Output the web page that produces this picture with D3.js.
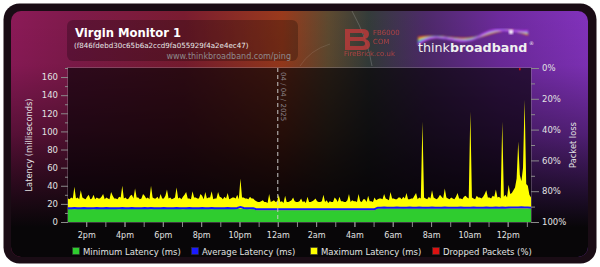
<!DOCTYPE html>
<html><head><meta charset="utf-8">
<script src="https://cdn.jsdelivr.net/npm/d3@7"></script>
<style>html,body{margin:0;padding:0;background:#fff;}svg{display:block;font-family:"DejaVu Sans",sans-serif;}</style>
</head><body><svg id="c" width="600" height="267"></svg>
<script>
// ---------------- DATA ----------------
const title = "Virgin Monitor 1";
const monitorId = "(f846fdebd30c65b6a2ccd9fa055929f4a2e4ec47)";
const siteUrl = "www.thinkbroadband.com/ping";
const dateLabel = "04 / 04 / 2025";
const startTime = "2025-04-03T13:03:00Z";
const endTime = "2025-04-04T13:13:00Z";
const dateLineTime = "2025-04-04T00:00:00Z";
const stepMinutesMinAvg = 10;
const stepMinutesMax = 5;

const minLatency = [
14.3,14.3,14.2,14.3,14.3,14.4,14.3,14.3,14.2,14.3,
14.3,14.3,14.3,14.4,14.3,14.3,14.2,14.3,14.3,14.3,
14.3,14.3,14.4,14.3,14.3,14.3,14.2,14.3,14.3,14.3,
14.3,14.4,14.3,14.3,14.3,14.3,14.2,14.3,14.3,14.3,
14.4,14.3,14.3,14.3,14.3,14.2,14.3,14.3,14.3,14.3,
14.4,14.3,14.3,14.3,14.4,14.3,14.3,14.2,14.3,
13.0,12.9,13.0,13.0,13.1,13.0,13.0,12.9,13.0,13.0,
13.0,13.0,13.1,13.0,12.9,13.0,13.0,13.0,13.0,13.1,
13.0,12.9,13.0,13.0,13.0,13.0,13.1,13.0,13.0,12.9,
13.0,13.0,13.0,13.1,13.0,13.0,13.0,12.9,
14.7,14.7,14.8,14.7,14.7,14.6,14.7,14.7,14.8,14.7,
14.7,14.7,14.7,14.6,14.7,14.8,14.7,14.7,14.7,14.7,
14.8,14.7,14.7,14.6,14.7,14.7,14.7,14.8,14.7,14.7,
14.7,14.7,14.6,14.7,14.7,14.8,14.7,14.7,14.7,14.7,
14.7,14.8,14.7,14.7,14.6,14.7,14.7,14.7,14.7];

const avgLatency = [
15.3,15.3,15.4,15.3,15.3,15.4,15.3,15.3,15.3,15.4,
15.3,15.3,15.4,15.3,15.3,15.3,15.3,15.5,15.3,15.3,
15.4,15.3,15.3,15.3,15.4,15.3,15.5,15.3,15.3,15.3,
15.4,15.3,15.3,15.3,15.4,15.3,15.3,15.3,15.4,15.3,
15.3,15.3,15.4,15.3,15.3,15.4,15.3,15.3,15.3,15.3,
15.4,15.3,15.3,15.4,16.6,15.4,15.3,15.3,15.3,
14.0,14.0,14.1,14.0,14.0,14.0,14.1,14.0,14.0,14.0,
14.1,14.0,14.0,14.0,14.0,14.1,14.0,14.0,14.1,14.0,
14.0,14.0,14.0,14.1,14.0,14.0,14.0,14.1,14.0,14.0,
14.1,14.0,14.0,14.0,14.1,14.0,14.0,14.1,
15.8,15.8,15.9,15.8,15.8,15.8,15.9,15.8,15.8,15.8,
15.9,15.8,15.8,15.9,15.8,15.8,15.8,15.9,15.8,15.8,
15.8,15.9,15.8,15.8,15.8,15.8,15.9,15.8,15.8,15.8,
15.9,15.8,15.8,15.8,15.9,15.8,15.8,15.9,15.8,15.9,
15.8,15.9,15.9,16.1,15.9,16.2,15.9,16.0,15.8];

const maxLatency = [
26,25,27,26,39,26,27,25,35,27,26,25,28,30,25,26,30,25,27,26,
26,28,31,25,27,26,25,33,29,26,26,25,28,27,40,26,27,25,26,29,
30,26,37,27,27,25,26,31,29,26,27,25,40,27,26,26,28,25,31,26,
26,29,36,26,27,25,26,27,38,26,27,25,28,30,33,26,26,25,34,27,
27,26,26,31,29,25,33,26,27,27,34,25,26,26,33,28,27,25,28,26,
32,25,26,27,27,26,30,25,48,27,27,26,26,25,28,26,26,24,
23,22,22,23,24,22,22,21,31,22,23,24,22,23,30,22,23,21,29,22,
22,23,24,27,23,22,22,23,26,22,23,21,28,22,22,23,24,26,23,22,
22,23,30,22,24,21,23,22,22,27,25,22,28,23,23,22,22,24,31,22,
24,23,23,22,31,23,22,25,25,22,29,23,23,22,27,24,
25,26,26,25,31,26,25,24,33,26,26,25,25,27,27,25,28,26,32,25,
25,26,26,29,32,25,27,26,111,27,26,25,28,26,35,27,26,25,27,30,
28,26,37,27,26,25,27,26,25,28,32,26,26,25,28,29,27,26,122,27,
26,25,29,27,27,26,28,31,35,27,27,26,29,28,36,27,28,26,111,28,
30,27,41,31,32,35,38,48,89,52,45,60,135,42,40,30,27];

const droppedTimes = ["2025-04-04T12:38:00Z"];
const droppedValues = [1.5];

const yTicks = [0,20,40,60,80,100,120,140,160];
const yMinorTicks = [10,30,50,70,90,110,130,150,170];
const lossTicks = [0,20,40,60,80,100];
const lossTickLabels = ["0%","20%","40%","60%","80%","100%"];
const lossMinorTicks = [10,30,50,70,90];
const xTickTimes = ["2025-04-03T14:00:00Z","2025-04-03T16:00:00Z","2025-04-03T18:00:00Z","2025-04-03T20:00:00Z","2025-04-03T22:00:00Z","2025-04-04T00:00:00Z","2025-04-04T02:00:00Z","2025-04-04T04:00:00Z","2025-04-04T06:00:00Z","2025-04-04T08:00:00Z","2025-04-04T10:00:00Z","2025-04-04T12:00:00Z"];
const xTickLabels = ["2pm","4pm","6pm","8pm","10pm","12am","2am","4am","6am","8am","10am","12pm"];

const legendItems = [
  {label:"Minimum Latency (ms)", color:"#2fcc2f"},
  {label:"Average Latency (ms)", color:"#1a1aff"},
  {label:"Maximum Latency (ms)", color:"#ffff00"},
  {label:"Dropped Packets (%)", color:"#dd1111"}];

// ---------------- DRAW ----------------
const svg = d3.select("#c");
const defs = svg.append("defs");

const hg = defs.append("linearGradient").attr("id","hg").attr("x1","0").attr("x2","1").attr("y1","0").attr("y2","0");
[[0,"#8c1a58"],[0.1,"#801a4c"],[0.3,"#7a1c30"],[0.47,"#9a3a1c"],[0.55,"#5e4a30"],[0.62,"#343c3a"],[0.72,"#4e2a6a"],[0.85,"#6e2a9e"],[1,"#8232bc"]]
  .forEach(s=>hg.append("stop").attr("offset",s[0]).attr("stop-color",s[1]));
const vg = defs.append("linearGradient").attr("id","vg").attr("x1","0").attr("x2","0").attr("y1","0").attr("y2","1");
[[0,"rgba(0,0,0,0)"],[0.22,"rgba(0,0,0,0.06)"],[0.5,"rgba(0,0,0,0.38)"],[0.75,"rgba(6,4,7,0.8)"],[0.88,"rgba(8,6,8,1)"],[1,"rgba(8,6,8,1)"]]
  .forEach(s=>vg.append("stop").attr("offset",s[0]).attr("stop-color",s[1]));
defs.append("filter").attr("id","blur").append("feGaussianBlur").attr("stdDeviation",0.9);

// frame
svg.append("rect").attr("x",3.5).attr("y",3.5).attr("width",593).attr("height",260).attr("rx",16).attr("fill","#1a0c15");
svg.append("rect").attr("x",11).attr("y",11).attr("width",577).attr("height",246).attr("rx",10).attr("fill","url(#hg)");
svg.append("rect").attr("x",11).attr("y",11).attr("width",577).attr("height",246).attr("rx",10).attr("fill","url(#vg)");
// faint streaks
svg.append("path").attr("d","M352,11 Q368,40 372,66").attr("fill","none").attr("stroke","rgba(255,255,255,0.18)").attr("stroke-width",1);
svg.append("path").attr("d","M300,66 Q310,50 330,44").attr("fill","none").attr("stroke","rgba(255,255,255,0.10)").attr("stroke-width",1);

// title box
svg.append("rect").attr("x",67).attr("y",20).attr("width",231).attr("height",41).attr("rx",6).attr("fill","rgba(0,0,0,0.25)");
svg.append("text").attr("x",75).attr("y",37).attr("font-size",11.6).attr("font-weight","bold").attr("fill","#fff").text(title);
svg.append("text").attr("x",74).attr("y",47.5).attr("font-size",7.1).attr("fill","#e8e8e8").text(monitorId);
svg.append("text").attr("x",291).attr("y",58.5).attr("font-size",8).attr("fill","#8e8a8c").attr("text-anchor","end").text(siteUrl);

// FireBrick logo
const fb = svg.append("g").attr("opacity",0.85);
fb.append("path").attr("d","M345,29 L362,29 Q369,29 369,34 Q369,38 365,39 Q370,40 370,45 Q370,50 363,50 L345,50 Z M350,33 L350,37 L361,37 Q364,37 364,35 Q364,33 361,33 Z M350,41 L350,46 L362,46 Q365,46 365,43.5 Q365,41 362,41 Z")
  .attr("fill","#b83a3a").attr("fill-rule","evenodd");
fb.append("text").attr("x",373).attr("y",35).attr("font-size",7).attr("fill","#c04444").text("FB6000");
fb.append("text").attr("x",373).attr("y",43.5).attr("font-size",7).attr("fill","#c04444").text("COM");
fb.append("text").attr("x",344).attr("y",56).attr("font-size",7).attr("fill","#c04444").text("FireBrick.co.uk");

// thinkbroadband swirl
const sw = svg.append("g").attr("filter","url(#blur)");
["#ff3030","#ff9a20","#ffee40","#40e060","#30c0ff","#6060ff","#e040ff"].forEach((c,i)=>{
  const o=(i-3)*1.3;
  sw.append("path").attr("d",`M418,${41+o} C440,${30-o} 458,${46+o} 478,${37} S505,${29+o} 528,${33-o*0.5}`)
    .attr("fill","none").attr("stroke",c).attr("stroke-width",1.4).attr("opacity",0.85);
});
svg.append("circle").attr("cx",511).attr("cy",32).attr("r",2.2).attr("fill","#fff").attr("filter","url(#blur)");
const tb = svg.append("text").attr("x",418).attr("y",52).attr("font-size",12.7).attr("fill","#f0f0f0");
tb.append("tspan").attr("font-weight","normal").text("think");
tb.append("tspan").attr("font-weight","bold").text("broadband");
svg.append("text").attr("x",529).attr("y",45).attr("font-size",5).attr("fill","#eee").text("®");

// plot
const L=68, R=531, T=68, B=222;
const x = d3.scaleUtc().domain([new Date(startTime), new Date(endTime)]).range([L,R]);
const y = d3.scaleLinear().domain([0,170]).range([B,T]);
const yLoss = d3.scaleLinear().domain([0,100]).range([T,B]);

svg.append("rect").attr("x",L).attr("y",T).attr("width",R-L).attr("height",B-T).attr("fill","rgba(4,2,5,0.64)");

const t0 = new Date(startTime).getTime();
const tMA = i => new Date(t0 + i*stepMinutesMinAvg*60000);
const tMX = i => new Date(t0 + i*stepMinutesMax*60000);

const g = svg.append("g");
g.append("path").datum(maxLatency).attr("fill","#ffff00")
  .attr("d", d3.area().x((d,i)=>x(tMX(i))).y0(y(0)).y1(d=>y(d)));
g.append("path").datum(minLatency).attr("fill","#2fcc2f")
  .attr("d", d3.area().x((d,i)=>x(tMA(i))).y0(y(0)).y1(d=>y(d)));
g.append("path").datum(avgLatency).attr("fill","none").attr("stroke","#1414ff").attr("stroke-width",2)
  .attr("d", d3.line().x((d,i)=>x(tMA(i))).y(d=>y(d)));
g.selectAll("rect.drop").data(droppedValues).enter().append("rect")
  .attr("x",(d,i)=>x(new Date(droppedTimes[i]))-0.7).attr("width",1.4)
  .attr("y",yLoss(0)).attr("height",d=>yLoss(d)-yLoss(0)).attr("fill","#dd1111");

// plot border
svg.append("rect").attr("x",L-0.5).attr("y",T-0.5).attr("width",R-L+1).attr("height",B-T+1)
  .attr("fill","none").attr("stroke","rgba(160,150,160,0.35)").attr("stroke-width",1);

// date line
svg.append("line").attr("x1",x(new Date(dateLineTime))).attr("x2",x(new Date(dateLineTime))).attr("y1",T).attr("y2",B)
  .attr("stroke","#c8c8c8").attr("stroke-dasharray","4,3").attr("stroke-width",1);
svg.append("text").attr("transform",`translate(${x(new Date(dateLineTime))+3.5},72) rotate(90)`)
  .attr("font-size",7).attr("fill","#8a8288").text(dateLabel);

// axes
const axisCol="#8a8a8a", labCol="#e2e2e2";
function styleAxis(sel){sel.select(".domain").remove();sel.selectAll("line").attr("stroke",axisCol);sel.selectAll("text").attr("fill",labCol).attr("font-family","DejaVu Sans");}
const ya = svg.append("g").attr("transform",`translate(${L},0)`)
  .call(d3.axisLeft(y).tickValues(yTicks).tickSize(7).tickPadding(3)).attr("font-size",8.5);
styleAxis(ya);
const yam = svg.append("g").attr("transform",`translate(${L},0)`)
  .call(d3.axisLeft(y).tickValues(yMinorTicks.filter(v=>v<=170)).tickSize(3).tickFormat(""));
styleAxis(yam);
const ra = svg.append("g").attr("transform",`translate(${R},0)`)
  .call(d3.axisRight(yLoss).tickValues(lossTicks).tickSize(8).tickPadding(3).tickFormat((d,i)=>lossTickLabels[i])).attr("font-size",8.5);
styleAxis(ra);
const ram = svg.append("g").attr("transform",`translate(${R},0)`)
  .call(d3.axisRight(yLoss).tickValues(lossMinorTicks).tickSize(4).tickFormat(""));
styleAxis(ram);
const hourTicks = d3.utcHour.range(new Date(startTime), new Date(endTime));
const xam = svg.append("g").attr("transform",`translate(0,${B})`)
  .call(d3.axisBottom(x).tickValues(hourTicks).tickSize(5).tickFormat(""));
styleAxis(xam);
const xa = svg.append("g").attr("transform",`translate(0,${B})`)
  .call(d3.axisBottom(x).tickValues(xTickTimes.map(s=>new Date(s))).tickSize(5).tickPadding(5).tickFormat((d,i)=>xTickLabels[i])).attr("font-size",8);
styleAxis(xa);

svg.append("text").attr("transform",`translate(31.5,${(T+B)/2}) rotate(-90)`).attr("text-anchor","middle")
  .attr("font-size",8.3).attr("fill",labCol).text("Latency (milliseconds)");
svg.append("text").attr("transform",`translate(576,${(T+B)/2}) rotate(-90)`).attr("text-anchor","middle")
  .attr("font-size",8.3).attr("fill",labCol).text("Packet loss");

// legend
const legX = [72,191,310,432];
const lg = svg.append("g");
legendItems.forEach((it,i)=>{
  lg.append("rect").attr("x",legX[i]+0.5).attr("y",247.5).attr("width",7).attr("height",7).attr("fill",it.color).attr("stroke","#333").attr("stroke-width",0.6);
  lg.append("text").attr("x",legX[i]+11).attr("y",254.5).attr("font-size",8.5).attr("fill",labCol).text(it.label);
});
</script></body></html>
